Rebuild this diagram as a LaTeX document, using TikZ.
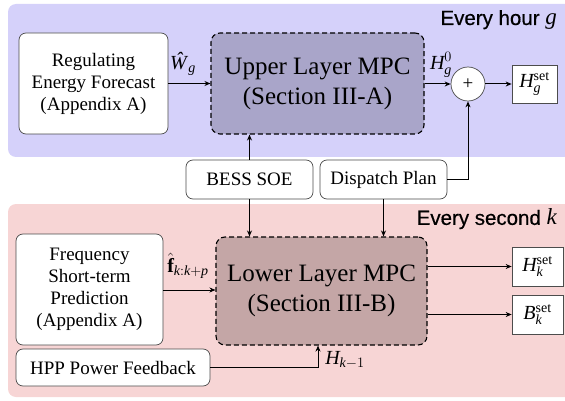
\documentclass[tikz,border=0pt]{standalone}
\usepackage{fontspec}
\setmainfont{Liberation Serif}
\newfontfamily\hvfont[FakeBold=0.5]{Liberation Sans}
\usetikzlibrary{arrows.meta}
\definecolor{topband}{RGB}{213,209,250}
\definecolor{botband}{RGB}{247,213,213}
\definecolor{upfill}{RGB}{169,165,201}
\definecolor{lowfill}{RGB}{196,166,166}
\newcommand{\mi}[1]{\mathit{#1}}
\begin{document}
\begin{tikzpicture}[x=1pt,y=-1pt,
  box/.style={draw=black!70, fill=white, rounded corners=7pt, align=center, inner sep=0pt,
    font=\fontsize{19}{22}\selectfont, line width=0.7pt},
  mpc/.style={draw=black, dash pattern=on 5pt off 3pt, line width=1.1pt, rounded corners=9pt,
    align=center, inner sep=0pt, font=\fontsize{25}{30}\selectfont},
  outbox/.style={draw=black!70, fill=white, inner sep=0pt, line width=0.7pt,
    font=\fontsize{20}{22}\selectfont},
  arr/.style={-{Stealth[length=6pt,width=5pt]}, line width=1pt},
  lab/.style={font=\fontsize{20}{22}\selectfont, inner sep=0pt},
  bandtitle/.style={font=\hvfont\fontsize{20.5}{22}\selectfont, inner sep=0pt, anchor=east}]
\useasboundingbox (0,0) rectangle (565,401);
\clip (0,0) rectangle (565,401);
% bands
\fill[topband, rounded corners=8pt] (8,4) rectangle (600,157);
\fill[botband, rounded corners=8pt] (8,204) rectangle (600,397);
\node[bandtitle] (hour) at (557,20) {Every hour {\rmfamily\itshape\fontsize{23}{22}\selectfont g}};
\node[bandtitle] (second) at (557,219) {Every second {\rmfamily\itshape\fontsize{23}{22}\selectfont k}};
% upper layer
\node[box, minimum width=149pt, minimum height=101pt] (reg) at (93.5,83.5)
  {Regulating\\Energy Forecast\\(Appendix A)};
\node[mpc, fill=upfill, minimum width=213pt, minimum height=101pt] (upper) at (317.5,83.5)
  {Upper Layer MPC\\(Section III-A)};
\node[circle, draw=black!70, fill=white, line width=0.7pt, minimum size=34pt, inner sep=0pt,
  font=\fontsize{19}{22}\selectfont] (sum) at (468,84) {+};
\node[outbox, minimum width=45pt, minimum height=38pt] (hg) at (534.5,84) {$\mi{H}_{\mi{g}}^{\mathrm{set}}$};
% middle
\node[box, minimum width=127pt, minimum height=39pt] (bess) at (249.5,179.5) {BESS SOE};
\node[box, minimum width=127pt, minimum height=39pt] (disp) at (383.5,179.5) {Dispatch Plan};
% lower layer
\node[box, minimum width=147pt, minimum height=111pt] (freq) at (89.5,289.5)
  {Frequency\\Short-term\\Prediction\\(Appendix A)};
\node[mpc, fill=lowfill, minimum width=211pt, minimum height=108pt] (lower) at (321.5,291)
  {Lower Layer MPC\\(Section III-B)};
\node[outbox, minimum width=51pt, minimum height=39pt] (hk) at (537.5,266.5) {$\mi{H}_{\mi{k}}^{\mathrm{set}}$};
\node[outbox, minimum width=51pt, minimum height=39pt] (bk) at (537.5,314.5) {$\mi{B}_{\mi{k}}^{\mathrm{set}}$};
\node[box, minimum width=194pt, minimum height=37pt] (hpp) at (113,367.5) {HPP Power Feedback};
\coordinate (dc) at (468,179.5);
\coordinate (hc) at (318,367.5);
% connectors
\draw[arr] (reg.east |- 0,83.5) -- (upper.west |- 0,83.5);
\node[lab] (wlab) at (183,64) {\textit{Ŵ}$_{\mi{g}}$};
\draw[arr] (upper.east |- sum) -- (sum.west);
\node[lab] (h0lab) at (441,65) {$\mi{H}_{\mi{g}}^{0}$};
\draw[arr] (sum.east) -- (hg.west);
\draw[arr] (bess.north) -- (bess.north |- upper.south);
\draw[arr] (disp.east) -- (dc) -- (sum.south);
\draw[arr] (bess.south) -- (bess.south |- lower.north);
\draw[arr] (disp.south) -- (disp.south |- lower.north);
\draw[arr] (freq.east |- 0,290) -- (lower.west |- 0,290);
\node[lab] (flab) at (188,266) {$\hat{\mathbf{f}}_{\mi{k}:\mi{k}+\mi{p}}$};
\draw[arr] (lower.east |- hk) -- (hk.west);
\draw[arr] (lower.east |- bk) -- (bk.west);
\draw[arr] (hpp.east) -- (hc) -- (hc |- lower.south);
\node[lab] (hklab) at (345,360) {$\mi{H}_{\mi{k}-1}$};
\end{tikzpicture}
\end{document}
